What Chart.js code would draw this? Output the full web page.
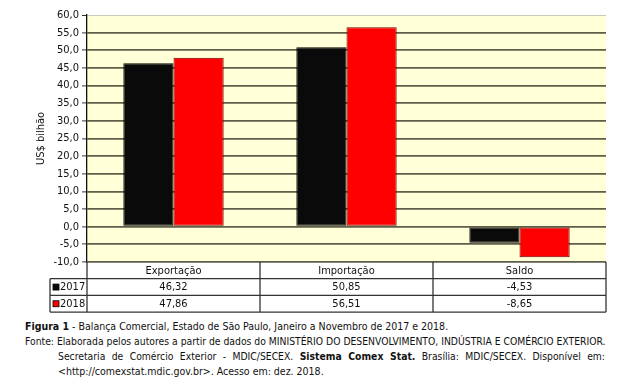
<!DOCTYPE html>
<html><head><meta charset="utf-8">
<script src="https://cdn.jsdelivr.net/npm/chart.js@4"></script>
<style>
html,body{margin:0;padding:0;background:#fff;}
#wrap{position:relative;width:628px;height:392px;overflow:hidden;}
canvas{position:absolute;left:0;top:0;}
.cap{position:absolute;font-family:"DejaVu Sans Condensed","DejaVu Sans",sans-serif;font-size:10.3px;color:#111;white-space:nowrap;line-height:14px;}
.just{white-space:normal;text-align:justify;text-align-last:justify;}
</style></head>
<body><div id="wrap">
<canvas id="c" width="628" height="318"></canvas>
<div class="cap" style="left:25px;top:319px;font-size:10.5px;"><b>Figura 1</b> - Balança Comercial, Estado de São Paulo, Janeiro a Novembro de 2017 e 2018.</div>
<div class="cap" style="left:25px;top:334px;">Fonte: Elaborada pelos autores a partir de dados do MINISTÉRIO DO DESENVOLVIMENTO, INDÚSTRIA E COMÉRCIO EXTERIOR.</div>
<div class="cap just" style="left:58px;top:349px;width:547px;">Secretaria de Comércio Exterior - MDIC/SECEX. <b>Sistema Comex Stat.</b> Brasília: MDIC/SECEX. Disponível em:</div>
<div class="cap" style="left:58px;top:364px;font-size:10.5px;">&lt;http://comexstat.mdic.gov.br&gt;. Acesso em: dez. 2018.</div>
</div>
<script>
const categories = ["Exportação", "Importação", "Saldo"];
const seriesNames = ["2017", "2018"];
const values2017 = [46.32, 50.85, -4.53];
const values2018 = [47.86, 56.51, -8.65];
const yTicks = [-10, -5, 0, 5, 10, 15, 20, 25, 30, 35, 40, 45, 50, 55, 60];

const FONT = '"DejaVu Sans Condensed","DejaVu Sans",sans-serif';
const fmt = (v, d) => v.toFixed(d).replace('.', ',');
const colors = ['#0a0a0a', '#ff0000'];
const borders = ['#000000', '#6e0000'];

const tablePlugin = {
  id: 'tablePlugin',
  beforeDraw(chart) {
    const {ctx, chartArea: a} = chart;
    ctx.save();
    ctx.fillStyle = '#ffffd8';
    ctx.fillRect(a.left, a.top, a.right - a.left, a.bottom - a.top);
    ctx.restore();
  },
  afterDraw(chart) {
    const {ctx, chartArea: a, scales} = chart;
    const x = scales.x;
    const n = categories.length;
    const cw = (a.right - a.left) / n;
    const y0 = a.bottom, rh = 16.7;
    const y1 = y0 + rh, y2 = y1 + rh, y3 = y2 + rh;
    const lx = 50;
    ctx.save();
    ctx.strokeStyle = '#333';
    ctx.lineWidth = 1.3;
    const line = (xa, ya, xb, yb) => { ctx.beginPath(); ctx.moveTo(xa, ya); ctx.lineTo(xb, yb); ctx.stroke(); };
    line(lx, y1, a.right, y1);
    line(lx, y2, a.right, y2);
    line(lx, y3, a.right, y3);
    line(lx, y1, lx, y3);
    line(a.left, y0, a.left, y3);
    for (let i = 0; i < n; i++) {
      const xr = x.getPixelForValue(i) + cw / 2;
      line(xr, y0, xr, y3);
    }
    ctx.fillStyle = '#111';
    ctx.font = '11px ' + FONT;
    ctx.textAlign = 'center';
    ctx.textBaseline = 'middle';
    const rows = [values2017, values2018];
    for (let i = 0; i < n; i++) {
      const cx = x.getPixelForValue(i);
      ctx.fillText(categories[i], cx, (y0 + y1) / 2 + 0.5);
      ctx.fillText(fmt(rows[0][i], 2), cx, (y1 + y2) / 2 + 0.5);
      ctx.fillText(fmt(rows[1][i], 2), cx, (y2 + y3) / 2 + 0.5);
    }
    ctx.textAlign = 'left';
    [y1, y2].forEach((yy, k) => {
      const cy = yy + rh / 2;
      ctx.fillStyle = colors[k];
      ctx.fillRect(lx + 3, cy - 3, 6, 6);
      ctx.strokeStyle = '#000';
      ctx.lineWidth = 0.8;
      ctx.strokeRect(lx + 3, cy - 3, 6, 6);
      ctx.fillStyle = '#111';
      ctx.fillText(seriesNames[k], lx + 10, cy + 0.5);
    });
    ctx.restore();
  }
};

new Chart(document.getElementById('c'), {
  type: 'bar',
  data: {
    labels: categories,
    datasets: [
      {label: seriesNames[0], data: values2017, backgroundColor: colors[0], borderColor: borders[0], borderWidth: 1, borderSkipped: false},
      {label: seriesNames[1], data: values2018, backgroundColor: colors[1], borderColor: borders[1], borderWidth: 1, borderSkipped: false}
    ]
  },
  options: {
    responsive: false,
    animation: false,
    devicePixelRatio: 1,
    layout: {padding: {left: 31, right: 22, top: 15, bottom: 56}},
    datasets: {bar: {categoryPercentage: 0.58, barPercentage: 1.0}},
    plugins: {legend: {display: false}, tooltip: {enabled: false}},
    scales: {
      x: {display: false, offset: true},
      y: {
        min: -10, max: 60,
        afterFit(s) { s.width = 56; },
        afterBuildTicks(s) { s.ticks = yTicks.map(v => ({value: v})); },
        ticks: {font: {family: FONT, size: 11}, color: '#111', padding: 3, callback: v => fmt(v, 1)},
        grid: {
          color: c => (c.tick && c.tick.value === 60) ? '#c8c8b8' : '#5e5e4a',
          lineWidth: c => (c.tick && c.tick.value === 60) ? 1 : 1.8,
          tickColor: '#333', tickLength: 5, tickWidth: 1
        },
        border: {display: true, color: '#111', width: 1.3},
        title: {display: true, text: 'US$ bilhão', font: {family: FONT, size: 11}, color: '#111', padding: {top: 4, bottom: 4}}
      }
    }
  },
  plugins: [tablePlugin]
});
</script>
</body></html>
